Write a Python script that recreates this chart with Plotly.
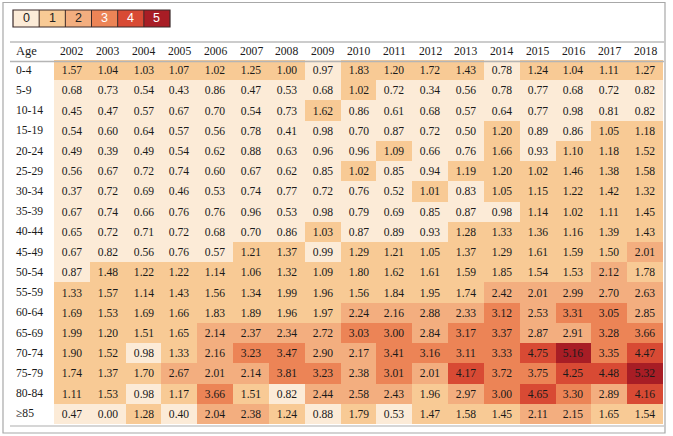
import plotly.graph_objects as go

W, H = 673, 436

years = list(range(2002, 2019))
age_groups = ["0-4", "5-9", "10-14", "15-19", "20-24", "25-29", "30-34", "35-39",
              "40-44", "45-49", "50-54", "55-59", "60-64", "65-69", "70-74",
              "75-79", "80-84", "≥85"]

r_0_4 = [1.57, 1.04, 1.03, 1.07, 1.02, 1.25, 1.00, 0.97, 1.83, 1.20, 1.72, 1.43, 0.78, 1.24, 1.04, 1.11, 1.27]
r_5_9 = [0.68, 0.73, 0.54, 0.43, 0.86, 0.47, 0.53, 0.68, 1.02, 0.72, 0.34, 0.56, 0.78, 0.77, 0.68, 0.72, 0.82]
r_10_14 = [0.45, 0.47, 0.57, 0.67, 0.70, 0.54, 0.73, 1.62, 0.86, 0.61, 0.68, 0.57, 0.64, 0.77, 0.98, 0.81, 0.82]
r_15_19 = [0.54, 0.60, 0.64, 0.57, 0.56, 0.78, 0.41, 0.98, 0.70, 0.87, 0.72, 0.50, 1.20, 0.89, 0.86, 1.05, 1.18]
r_20_24 = [0.49, 0.39, 0.49, 0.54, 0.62, 0.88, 0.63, 0.96, 0.96, 1.09, 0.66, 0.76, 1.66, 0.93, 1.10, 1.18, 1.52]
r_25_29 = [0.56, 0.67, 0.72, 0.74, 0.60, 0.67, 0.62, 0.85, 1.02, 0.85, 0.94, 1.19, 1.20, 1.02, 1.46, 1.38, 1.58]
r_30_34 = [0.37, 0.72, 0.69, 0.46, 0.53, 0.74, 0.77, 0.72, 0.76, 0.52, 1.01, 0.83, 1.05, 1.15, 1.22, 1.42, 1.32]
r_35_39 = [0.67, 0.74, 0.66, 0.76, 0.76, 0.96, 0.53, 0.98, 0.79, 0.69, 0.85, 0.87, 0.98, 1.14, 1.02, 1.11, 1.45]
r_40_44 = [0.65, 0.72, 0.71, 0.72, 0.68, 0.70, 0.86, 1.03, 0.87, 0.89, 0.93, 1.28, 1.33, 1.36, 1.16, 1.39, 1.43]
r_45_49 = [0.67, 0.82, 0.56, 0.76, 0.57, 1.21, 1.37, 0.99, 1.29, 1.21, 1.05, 1.37, 1.29, 1.61, 1.59, 1.50, 2.01]
r_50_54 = [0.87, 1.48, 1.22, 1.22, 1.14, 1.06, 1.32, 1.09, 1.80, 1.62, 1.61, 1.59, 1.85, 1.54, 1.53, 2.12, 1.78]
r_55_59 = [1.33, 1.57, 1.14, 1.43, 1.56, 1.34, 1.99, 1.96, 1.56, 1.84, 1.95, 1.74, 2.42, 2.01, 2.99, 2.70, 2.63]
r_60_64 = [1.69, 1.53, 1.69, 1.66, 1.83, 1.89, 1.96, 1.97, 2.24, 2.16, 2.88, 2.33, 3.12, 2.53, 3.31, 3.05, 2.85]
r_65_69 = [1.99, 1.20, 1.51, 1.65, 2.14, 2.37, 2.34, 2.72, 3.03, 3.00, 2.84, 3.17, 3.37, 2.87, 2.91, 3.28, 3.66]
r_70_74 = [1.90, 1.52, 0.98, 1.33, 2.16, 3.23, 3.47, 2.90, 2.17, 3.41, 3.16, 3.11, 3.33, 4.75, 5.16, 3.35, 4.47]
r_75_79 = [1.74, 1.37, 1.70, 2.67, 2.01, 2.14, 3.81, 3.23, 2.38, 3.01, 2.01, 4.17, 3.72, 3.75, 4.25, 4.48, 5.32]
r_80_84 = [1.11, 1.53, 0.98, 1.17, 3.66, 1.51, 0.82, 2.44, 2.58, 2.43, 1.96, 2.97, 3.00, 4.65, 3.30, 2.89, 4.16]
r_85_plus = [0.47, 0.00, 1.28, 0.40, 2.04, 2.38, 1.24, 0.88, 1.79, 0.53, 1.47, 1.58, 1.45, 2.11, 2.15, 1.65, 1.54]

rates = [r_0_4, r_5_9, r_10_14, r_15_19, r_20_24, r_25_29, r_30_34, r_35_39,
         r_40_44, r_45_49, r_50_54, r_55_59, r_60_64, r_65_69, r_70_74,
         r_75_79, r_80_84, r_85_plus]

legend_levels = [0, 1, 2, 3, 4, 5]
level_colors = ["#FCEBD7", "#F8CA95", "#F3AE7F", "#EC8456", "#D84A34", "#A81D25"]
legend_text_colors = ["#222222", "#222222", "#222222", "#FFFFFF", "#FFFFFF", "#FFFFFF"]

# stepped colour scale: one colour per integer band, z range 0..6
eps = 1e-4
colorscale = []
for i, c in enumerate(level_colors):
    lo = 0.0 if i == 0 else (i - eps) / 6
    hi = (i + 1 - eps) / 6
    colorscale.append([lo, c])
    colorscale.append([hi, c])
colorscale.append([1.0, level_colors[-1]])


def px_x(p):
    return p / W


def px_y(p):
    return 1 - p / H


row_idx = list(range(len(age_groups)))
serif = "Liberation Serif"
txt = "#1a1a1a"

fig = go.Figure()

fig.add_trace(go.Heatmap(
    z=rates, x=years, y=row_idx,
    colorscale=colorscale, zmin=0, zmax=6, showscale=False,
    texttemplate="%{z:.2f}",
    textfont=dict(family=serif, size=11.6, color=txt),
    hoverinfo="skip",
    xaxis="x", yaxis="y",
))

# legend strip
fig.add_trace(go.Heatmap(
    z=[legend_levels], x=legend_levels, y=[0],
    colorscale=colorscale, zmin=0, zmax=6, showscale=False,
    hoverinfo="skip", xaxis="x2", yaxis="y2",
))

annotations = []
for lv, tc in zip(legend_levels, legend_text_colors):
    annotations.append(dict(x=lv, y=0, xref="x2", yref="y2", text=str(lv),
                            showarrow=False, xanchor="center", yanchor="middle",
                            font=dict(family="Liberation Sans", size=12.5, color=tc)))

header_y = px_y(51)
annotations.append(dict(x=px_x(14), y=header_y, xref="paper", yref="paper",
                        text="Age", xanchor="left", yanchor="middle", showarrow=False,
                        font=dict(family=serif, size=12.5, color=txt)))
for yr in years:
    annotations.append(dict(x=yr, y=header_y, xref="x", yref="paper", text=str(yr),
                            showarrow=False, xanchor="center", yanchor="middle",
                            font=dict(family=serif, size=11.6, color=txt)))
for i, ag in zip(row_idx, age_groups):
    annotations.append(dict(x=px_x(14), y=i, xref="paper", yref="y", text=ag,
                            xanchor="left", yanchor="middle", showarrow=False,
                            font=dict(family=serif, size=11.6, color=txt)))

shapes = [
    # outer frame
    dict(type="rect", xref="paper", yref="paper", x0=px_x(3), x1=px_x(665),
         y0=px_y(433), y1=px_y(2.5), line=dict(color="#A8A8A8", width=1.2)),
    # table rules
    dict(type="line", xref="paper", yref="paper", x0=px_x(10), x1=px_x(664),
         y0=px_y(42), y1=px_y(42), line=dict(color="#9A9A9A", width=1.2)),
    dict(type="line", xref="paper", yref="paper", x0=px_x(10), x1=px_x(664),
         y0=px_y(61.5), y1=px_y(61.5), line=dict(color="#B5B5B5", width=1.5)),
    dict(type="line", xref="paper", yref="paper", x0=px_x(10), x1=px_x(664),
         y0=px_y(426), y1=px_y(426), line=dict(color="#C8C8C8", width=1.5)),
    # legend frame
    dict(type="rect", xref="x2 domain", yref="y2 domain", x0=0, x1=1, y0=0, y1=1,
         line=dict(color="#3a2a2a", width=1.2)),
]
for lv in legend_levels[:-1]:
    shapes.append(dict(type="line", xref="x2", yref="y2 domain", x0=lv + 0.5, x1=lv + 0.5,
                       y0=0, y1=1, line=dict(color="#3a2a2a", width=1)))

fig.update_layout(
    width=W, height=H,
    margin=dict(l=0, r=0, t=0, b=0),
    paper_bgcolor="white", plot_bgcolor="white",
    xaxis=dict(domain=[px_x(54), px_x(663)], visible=False,
               range=[years[0] - 0.5, years[-1] + 0.5]),
    yaxis=dict(domain=[px_y(424), px_y(60)], visible=False,
               range=[len(age_groups) - 0.5, -0.5]),
    xaxis2=dict(domain=[px_x(13), px_x(170)], visible=False, anchor="y2",
                range=[-0.5, 5.5]),
    yaxis2=dict(domain=[px_y(27), px_y(10)], visible=False, anchor="x2",
                range=[-0.5, 0.5]),
    annotations=annotations,
    shapes=shapes,
    showlegend=False,
)

fig.write_html("out.html", config={"displayModeBar": False},
               post_script="document.body.style.margin='0';document.body.style.padding='0';")
